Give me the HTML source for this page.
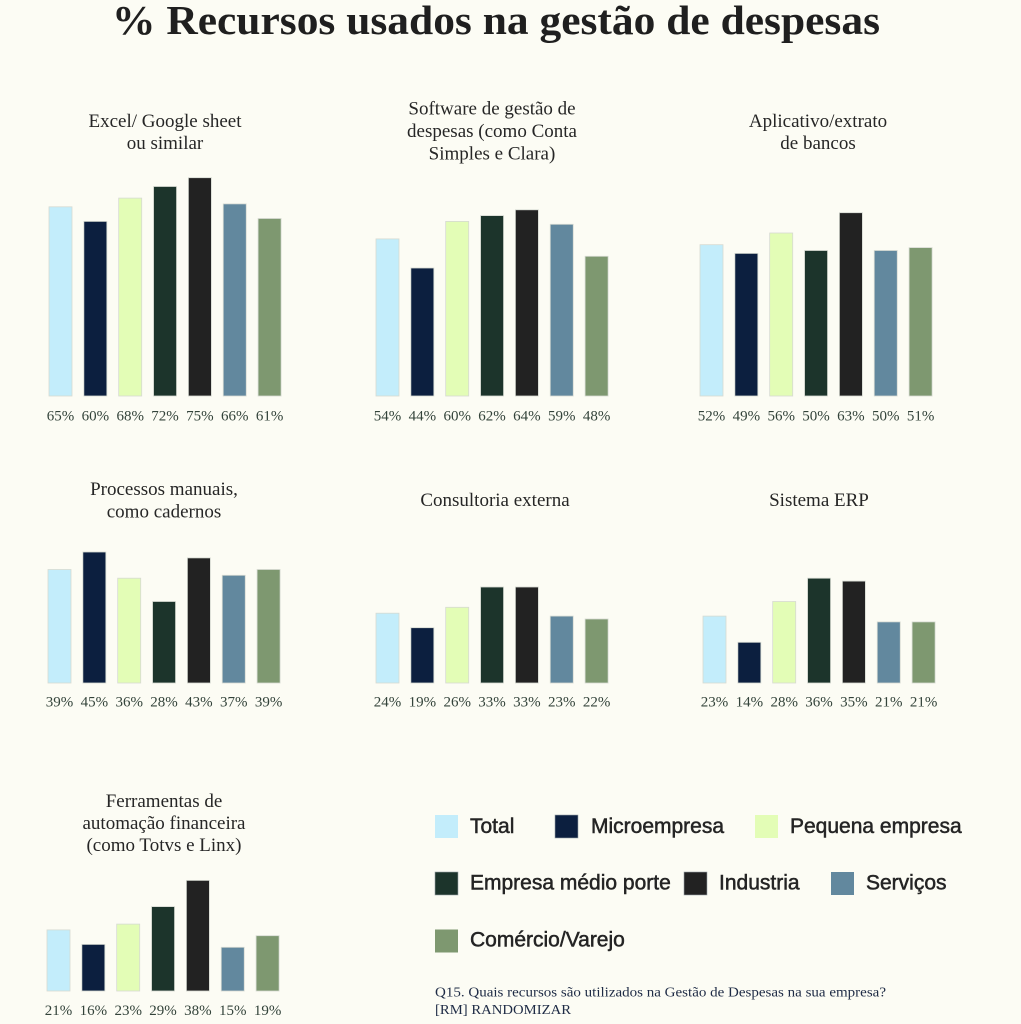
<!DOCTYPE html>
<html><head><meta charset="utf-8"><style>
html,body{margin:0;padding:0;background:#fcfcf4;}
svg{display:block;}
.t{font-family:"Liberation Serif",serif;font-size:19px;fill:#262626;text-anchor:middle;}
.l{font-family:"Liberation Serif",serif;font-size:15px;fill:#33433a;text-anchor:middle;}
.g{font-family:"Liberation Sans",sans-serif;font-size:21px;fill:#242424;stroke:#242424;stroke-width:0.5px;}
rect.b{stroke:#d6dad2;stroke-width:0.8;}
</style></head><body>
<svg width="1021" height="1024" viewBox="0 0 1021 1024" xmlns="http://www.w3.org/2000/svg">
<rect width="1021" height="1024" fill="#fcfcf4"/>
<text x="112" y="34" textLength="768" lengthAdjust="spacingAndGlyphs" style="font-family:'Liberation Serif',serif;font-weight:bold;font-size:41px;fill:#1f1f1f;">% Recursos usados na gestão de despesas</text>

<!-- titles -->
<text class="t" x="165" y="127">Excel/ Google sheet</text>
<text class="t" x="165" y="149">ou similar</text>
<text class="t" x="492" y="114.5">Software de gestão de</text>
<text class="t" x="492" y="137">despesas (como Conta</text>
<text class="t" x="492" y="159.5">Simples e Clara)</text>
<text class="t" x="818" y="127">Aplicativo/extrato</text>
<text class="t" x="818" y="149">de bancos</text>
<text class="t" x="164" y="495">Processos manuais,</text>
<text class="t" x="164" y="517.5">como cadernos</text>
<text class="t" x="495" y="506">Consultoria externa</text>
<text class="t" x="819" y="506">Sistema ERP</text>
<text class="t" x="164" y="807">Ferramentas de</text>
<text class="t" x="164" y="829">automação financeira</text>
<text class="t" x="164" y="851">(como Totvs e Linx)</text>

<!-- Panel 1 -->
<g transform="translate(49,396)">
<rect class="b" x="0" y="-189.2" width="23" height="189.2" fill="#c3edfb"/>
<rect class="b" x="34.85" y="-174.6" width="23" height="174.6" fill="#0c1f3f"/>
<rect class="b" x="69.7" y="-197.9" width="23" height="197.9" fill="#e3fdb6"/>
<rect class="b" x="104.55" y="-209.5" width="23" height="209.5" fill="#1c342b"/>
<rect class="b" x="139.4" y="-218.3" width="23" height="218.3" fill="#222222"/>
<rect class="b" x="174.25" y="-192.1" width="23" height="192.1" fill="#62889e"/>
<rect class="b" x="209.1" y="-177.5" width="23" height="177.5" fill="#7e9870"/>
<text class="l" x="11.5" y="24.5">65%</text>
<text class="l" x="46.35" y="24.5">60%</text>
<text class="l" x="81.2" y="24.5">68%</text>
<text class="l" x="116.05" y="24.5">72%</text>
<text class="l" x="150.9" y="24.5">75%</text>
<text class="l" x="185.75" y="24.5">66%</text>
<text class="l" x="220.6" y="24.5">61%</text>
</g>

<!-- Panel 2 -->
<g transform="translate(376,396)">
<rect class="b" x="0" y="-157.1" width="23" height="157.1" fill="#c3edfb"/>
<rect class="b" x="34.85" y="-128" width="23" height="128" fill="#0c1f3f"/>
<rect class="b" x="69.7" y="-174.6" width="23" height="174.6" fill="#e3fdb6"/>
<rect class="b" x="104.55" y="-180.4" width="23" height="180.4" fill="#1c342b"/>
<rect class="b" x="139.4" y="-186.2" width="23" height="186.2" fill="#222222"/>
<rect class="b" x="174.25" y="-171.7" width="23" height="171.7" fill="#62889e"/>
<rect class="b" x="209.1" y="-139.7" width="23" height="139.7" fill="#7e9870"/>
<text class="l" x="11.5" y="24.5">54%</text>
<text class="l" x="46.35" y="24.5">44%</text>
<text class="l" x="81.2" y="24.5">60%</text>
<text class="l" x="116.05" y="24.5">62%</text>
<text class="l" x="150.9" y="24.5">64%</text>
<text class="l" x="185.75" y="24.5">59%</text>
<text class="l" x="220.6" y="24.5">48%</text>
</g>

<!-- Panel 3 -->
<g transform="translate(700,396)">
<rect class="b" x="0" y="-151.3" width="23" height="151.3" fill="#c3edfb"/>
<rect class="b" x="34.85" y="-142.6" width="23" height="142.6" fill="#0c1f3f"/>
<rect class="b" x="69.7" y="-163" width="23" height="163" fill="#e3fdb6"/>
<rect class="b" x="104.55" y="-145.5" width="23" height="145.5" fill="#1c342b"/>
<rect class="b" x="139.4" y="-183.3" width="23" height="183.3" fill="#222222"/>
<rect class="b" x="174.25" y="-145.5" width="23" height="145.5" fill="#62889e"/>
<rect class="b" x="209.1" y="-148.4" width="23" height="148.4" fill="#7e9870"/>
<text class="l" x="11.5" y="24.5">52%</text>
<text class="l" x="46.35" y="24.5">49%</text>
<text class="l" x="81.2" y="24.5">56%</text>
<text class="l" x="116.05" y="24.5">50%</text>
<text class="l" x="150.9" y="24.5">63%</text>
<text class="l" x="185.75" y="24.5">50%</text>
<text class="l" x="220.6" y="24.5">51%</text>
</g>

<!-- Panel 4 -->
<g transform="translate(48,683)">
<rect class="b" x="0" y="-113.5" width="23" height="113.5" fill="#c3edfb"/>
<rect class="b" x="34.85" y="-131" width="23" height="131" fill="#0c1f3f"/>
<rect class="b" x="69.7" y="-104.8" width="23" height="104.8" fill="#e3fdb6"/>
<rect class="b" x="104.55" y="-81.5" width="23" height="81.5" fill="#1c342b"/>
<rect class="b" x="139.4" y="-125.1" width="23" height="125.1" fill="#222222"/>
<rect class="b" x="174.25" y="-107.7" width="23" height="107.7" fill="#62889e"/>
<rect class="b" x="209.1" y="-113.5" width="23" height="113.5" fill="#7e9870"/>
<text class="l" x="11.5" y="23.5">39%</text>
<text class="l" x="46.35" y="23.5">45%</text>
<text class="l" x="81.2" y="23.5">36%</text>
<text class="l" x="116.05" y="23.5">28%</text>
<text class="l" x="150.9" y="23.5">43%</text>
<text class="l" x="185.75" y="23.5">37%</text>
<text class="l" x="220.6" y="23.5">39%</text>
</g>

<!-- Panel 5 -->
<g transform="translate(376,683)">
<rect class="b" x="0" y="-69.8" width="23" height="69.8" fill="#c3edfb"/>
<rect class="b" x="34.85" y="-55.3" width="23" height="55.3" fill="#0c1f3f"/>
<rect class="b" x="69.7" y="-75.7" width="23" height="75.7" fill="#e3fdb6"/>
<rect class="b" x="104.55" y="-96" width="23" height="96" fill="#1c342b"/>
<rect class="b" x="139.4" y="-96" width="23" height="96" fill="#222222"/>
<rect class="b" x="174.25" y="-66.9" width="23" height="66.9" fill="#62889e"/>
<rect class="b" x="209.1" y="-64" width="23" height="64" fill="#7e9870"/>
<text class="l" x="11.5" y="23.5">24%</text>
<text class="l" x="46.35" y="23.5">19%</text>
<text class="l" x="81.2" y="23.5">26%</text>
<text class="l" x="116.05" y="23.5">33%</text>
<text class="l" x="150.9" y="23.5">33%</text>
<text class="l" x="185.75" y="23.5">23%</text>
<text class="l" x="220.6" y="23.5">22%</text>
</g>

<!-- Panel 6 -->
<g transform="translate(703,683)">
<rect class="b" x="0" y="-66.9" width="23" height="66.9" fill="#c3edfb"/>
<rect class="b" x="34.85" y="-40.7" width="23" height="40.7" fill="#0c1f3f"/>
<rect class="b" x="69.7" y="-81.5" width="23" height="81.5" fill="#e3fdb6"/>
<rect class="b" x="104.55" y="-104.8" width="23" height="104.8" fill="#1c342b"/>
<rect class="b" x="139.4" y="-101.9" width="23" height="101.9" fill="#222222"/>
<rect class="b" x="174.25" y="-61.1" width="23" height="61.1" fill="#62889e"/>
<rect class="b" x="209.1" y="-61.1" width="23" height="61.1" fill="#7e9870"/>
<text class="l" x="11.5" y="23.5">23%</text>
<text class="l" x="46.35" y="23.5">14%</text>
<text class="l" x="81.2" y="23.5">28%</text>
<text class="l" x="116.05" y="23.5">36%</text>
<text class="l" x="150.9" y="23.5">35%</text>
<text class="l" x="185.75" y="23.5">21%</text>
<text class="l" x="220.6" y="23.5">21%</text>
</g>

<!-- Panel 7 -->
<g transform="translate(47,991)">
<rect class="b" x="0" y="-61.1" width="23" height="61.1" fill="#c3edfb"/>
<rect class="b" x="34.85" y="-46.6" width="23" height="46.6" fill="#0c1f3f"/>
<rect class="b" x="69.7" y="-66.9" width="23" height="66.9" fill="#e3fdb6"/>
<rect class="b" x="104.55" y="-84.4" width="23" height="84.4" fill="#1c342b"/>
<rect class="b" x="139.4" y="-110.6" width="23" height="110.6" fill="#222222"/>
<rect class="b" x="174.25" y="-43.7" width="23" height="43.7" fill="#62889e"/>
<rect class="b" x="209.1" y="-55.3" width="23" height="55.3" fill="#7e9870"/>
<text class="l" x="11.5" y="24">21%</text>
<text class="l" x="46.35" y="24">16%</text>
<text class="l" x="81.2" y="24">23%</text>
<text class="l" x="116.05" y="24">29%</text>
<text class="l" x="150.9" y="24">38%</text>
<text class="l" x="185.75" y="24">15%</text>
<text class="l" x="220.6" y="24">19%</text>
</g>

<!-- Legend -->
<rect x="435" y="815" width="23" height="23" fill="#c3edfb"/>
<text class="g" x="470" y="833">Total</text>
<rect x="555" y="815" width="23" height="23" fill="#0c1f3f" stroke="#9aa3a8" stroke-width="0.6"/>
<text class="g" x="591" y="833">Microempresa</text>
<rect x="755" y="815" width="23" height="23" fill="#e3fdb6"/>
<text class="g" x="790" y="833">Pequena empresa</text>

<rect x="435" y="872" width="23" height="23" fill="#1c342b" stroke="#9aa3a8" stroke-width="0.6"/>
<text class="g" x="470" y="889.5">Empresa médio porte</text>
<rect x="684" y="872" width="23" height="23" fill="#222222" stroke="#9aa3a8" stroke-width="0.6"/>
<text class="g" x="719" y="889.5">Industria</text>
<rect x="831" y="872" width="23" height="23" fill="#62889e"/>
<text class="g" x="866" y="889.5">Serviços</text>

<rect x="435" y="929.5" width="23" height="23" fill="#7e9870"/>
<text class="g" x="470" y="946.5">Comércio/Varejo</text>

<!-- Footer -->
<text x="435" y="996.7" textLength="451" lengthAdjust="spacingAndGlyphs" style="font-family:'Liberation Serif',serif;font-size:14px;fill:#1e2b45;">Q15. Quais recursos são utilizados na Gestão de Despesas na sua empresa?</text>
<text x="435" y="1014" textLength="136" lengthAdjust="spacingAndGlyphs" style="font-family:'Liberation Serif',serif;font-size:14px;fill:#1e2b45;">[RM] RANDOMIZAR</text>
</svg>
</body></html>
